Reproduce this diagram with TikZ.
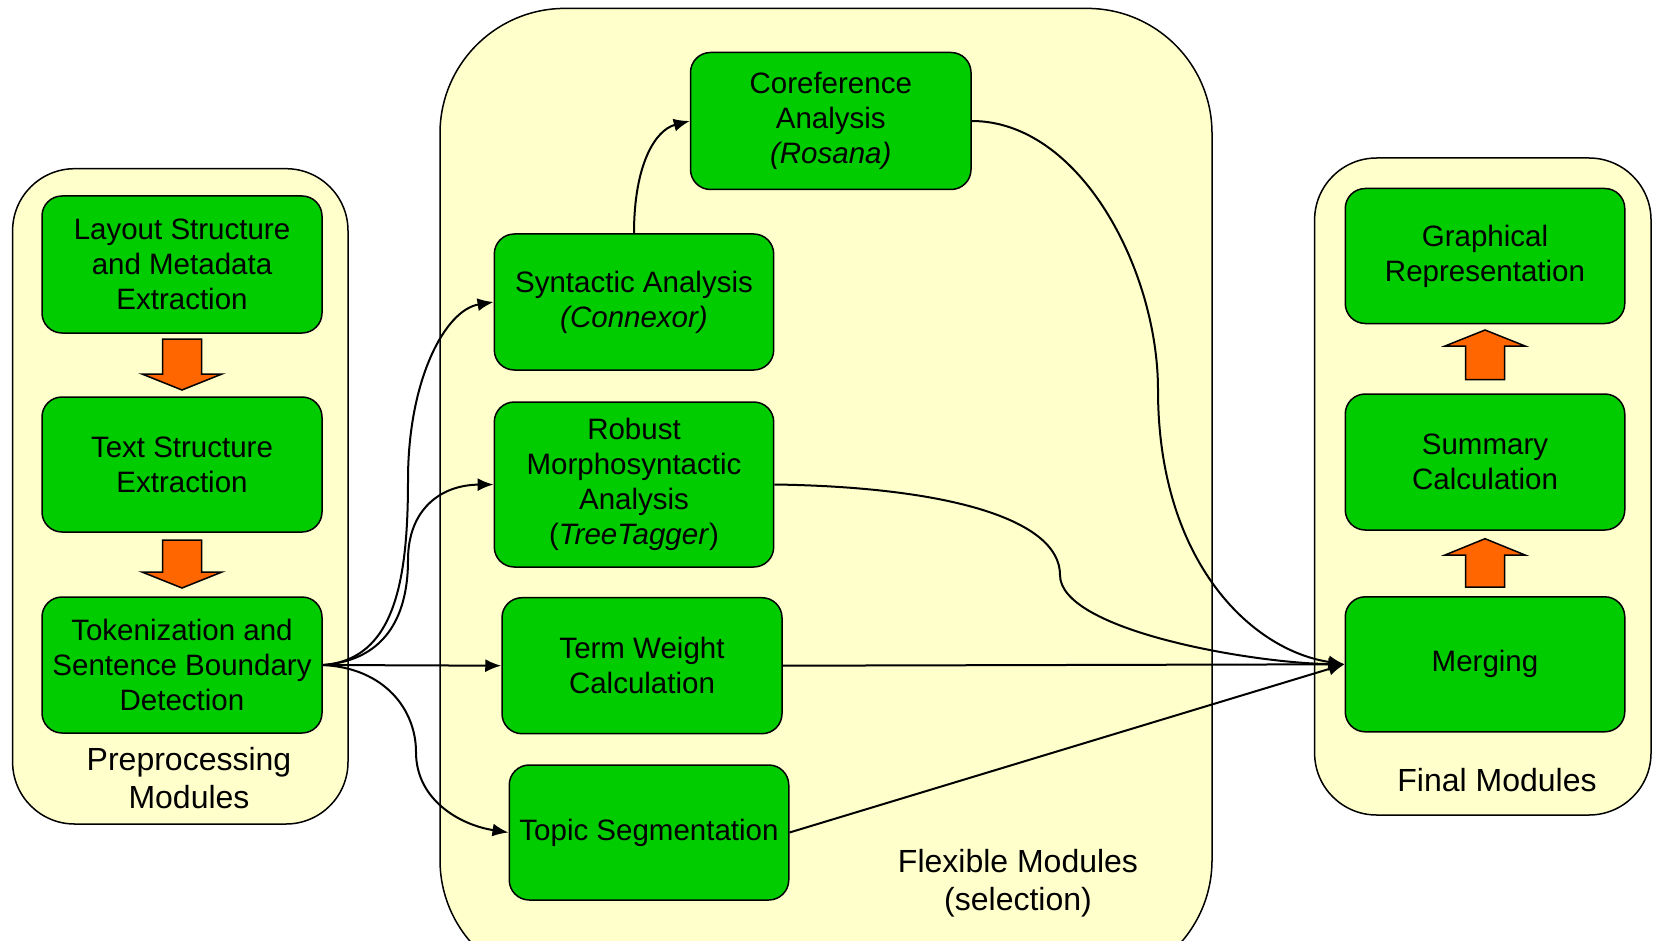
\documentclass[tikz,border=0pt]{standalone}
\usepackage{fontspec}
\setmainfont{Liberation Sans}
\usetikzlibrary{arrows.meta}
\definecolor{boxgreen}{HTML}{00CC00}
\definecolor{panel}{HTML}{FFFFCC}
\definecolor{blockor}{HTML}{FF6600}
\tikzset{
  panelbox/.style={draw=black, line width=1.5pt, fill=panel},
  modbox/.style={draw=black, line width=1.5pt, fill=boxgreen, rounded corners=20pt,
    align=center, inner sep=0pt, font=\fontsize{29.5}{35}\selectfont},
  lbl/.style={align=center, font=\fontsize{32}{38}\selectfont},
  conn/.style={draw=black, line width=2pt, -{Latex[length=16pt,width=13pt]}},
  blockarrow/.style={draw=black, line width=1.5pt, fill=blockor},
}
\begin{document}
\begin{tikzpicture}[x=1pt,y=-1pt]
\useasboundingbox (0,0) rectangle (1653,941);
\fill[white] (0,0) rectangle (1653,941);
% panels
\draw[panelbox, rounded corners=62pt] (12.6,168.7) rectangle (348,824);
\draw[panelbox, rounded corners=125pt] (440,8.4) rectangle (1212,985);
\draw[panelbox, rounded corners=62pt] (1314.6,158) rectangle (1651,815);
% panel labels
\node[lbl] (lpre) at (189,778) {Preprocessing\\Modules};
\node[lbl] (lflex) at (1018,883) {Flexible Modules\\(selection)};
\node[lbl] (lfin) at (1497,780) {Final Modules};
% preprocessing modules
\node[modbox, minimum width=280pt, minimum height=137pt] (layout) at (182,264.5) {Layout Structure\\and Metadata\\Extraction};
\node[modbox, minimum width=280pt, minimum height=135pt] (textst) at (182,464.5) {Text Structure\\Extraction};
\node[modbox, minimum width=280pt, minimum height=136pt] (token) at (182,665) {Tokenization and\\Sentence Boundary\\Detection};
% flexible modules
\node[modbox, minimum width=280.5pt, minimum height=137pt] (coref) at (830.75,121) {Coreference\\Analysis\\\textit{(Rosana)}};
\node[modbox, minimum width=279.4pt, minimum height=136pt] (synt) at (634,302) {Syntactic Analysis\\\textit{(Connexor)}};
\node[modbox, minimum width=279.4pt, minimum height=165pt] (robust) at (634,484.5) {Robust\\Morphosyntactic\\Analysis\\(\textit{TreeTagger})};
\node[modbox, minimum width=280pt, minimum height=136pt] (term) at (642,665.7) {Term Weight\\Calculation};
\node[modbox, minimum width=279.5pt, minimum height=135pt] (topic) at (649,832.5) {Topic Segmentation};
% final modules
\node[modbox, minimum width=279.5pt, minimum height=135pt] (graph) at (1485,256) {Graphical\\Representation};
\node[modbox, minimum width=279.5pt, minimum height=136pt] (summ) at (1485,462) {Summary\\Calculation};
\node[modbox, minimum width=279.5pt, minimum height=135pt] (merge) at (1485,664.3) {Merging};
% block arrows
\draw[blockarrow] (162.5,339) -- (201.5,339) -- (201.5,374) -- (222,374) -- (182,390) -- (142,374) -- (162.5,374) -- cycle;
\draw[blockarrow] (162.5,540) -- (201.5,540) -- (201.5,572) -- (222,572) -- (182,588) -- (142,572) -- (162.5,572) -- cycle;
\draw[blockarrow] (1465.5,379.5) -- (1504.5,379.5) -- (1504.5,346) -- (1525,346) -- (1485,330) -- (1445,346) -- (1465.5,346) -- cycle;
\draw[blockarrow] (1465.5,587) -- (1504.5,587) -- (1504.5,555) -- (1525,555) -- (1485,538.7) -- (1445,555) -- (1465.5,555) -- cycle;
% connectors
\draw[conn] (token.east) .. controls (395,660) and (408,580) .. (408,480) .. controls (408,380) and (445,310) .. (synt.west);
\draw[conn] (token.east) .. controls (390,660) and (408,610) .. (408,560) .. controls (408,510) and (440,485) .. (robust.west);
\draw[conn] (token.east) -- (term.west);
\draw[conn] (token.east) .. controls (385,668) and (416,710) .. (416,752) .. controls (416,800) and (460,825) .. (topic.west);
\draw[conn] (synt.north) .. controls (634,165) and (655,130) .. (coref.west);
\draw[conn] (coref.east) .. controls (1080,121) and (1158,270) .. (1158,390) .. controls (1158,560) and (1250,650) .. (merge.west);
\draw[conn] (robust.east) .. controls (950,487) and (1060,520) .. (1060,575) .. controls (1060,630) and (1250,663) .. (merge.west);
\draw[conn] (term.east) -- (merge.west);
\draw[conn] (topic.east) -- (merge.west);
\end{tikzpicture}
\end{document}
